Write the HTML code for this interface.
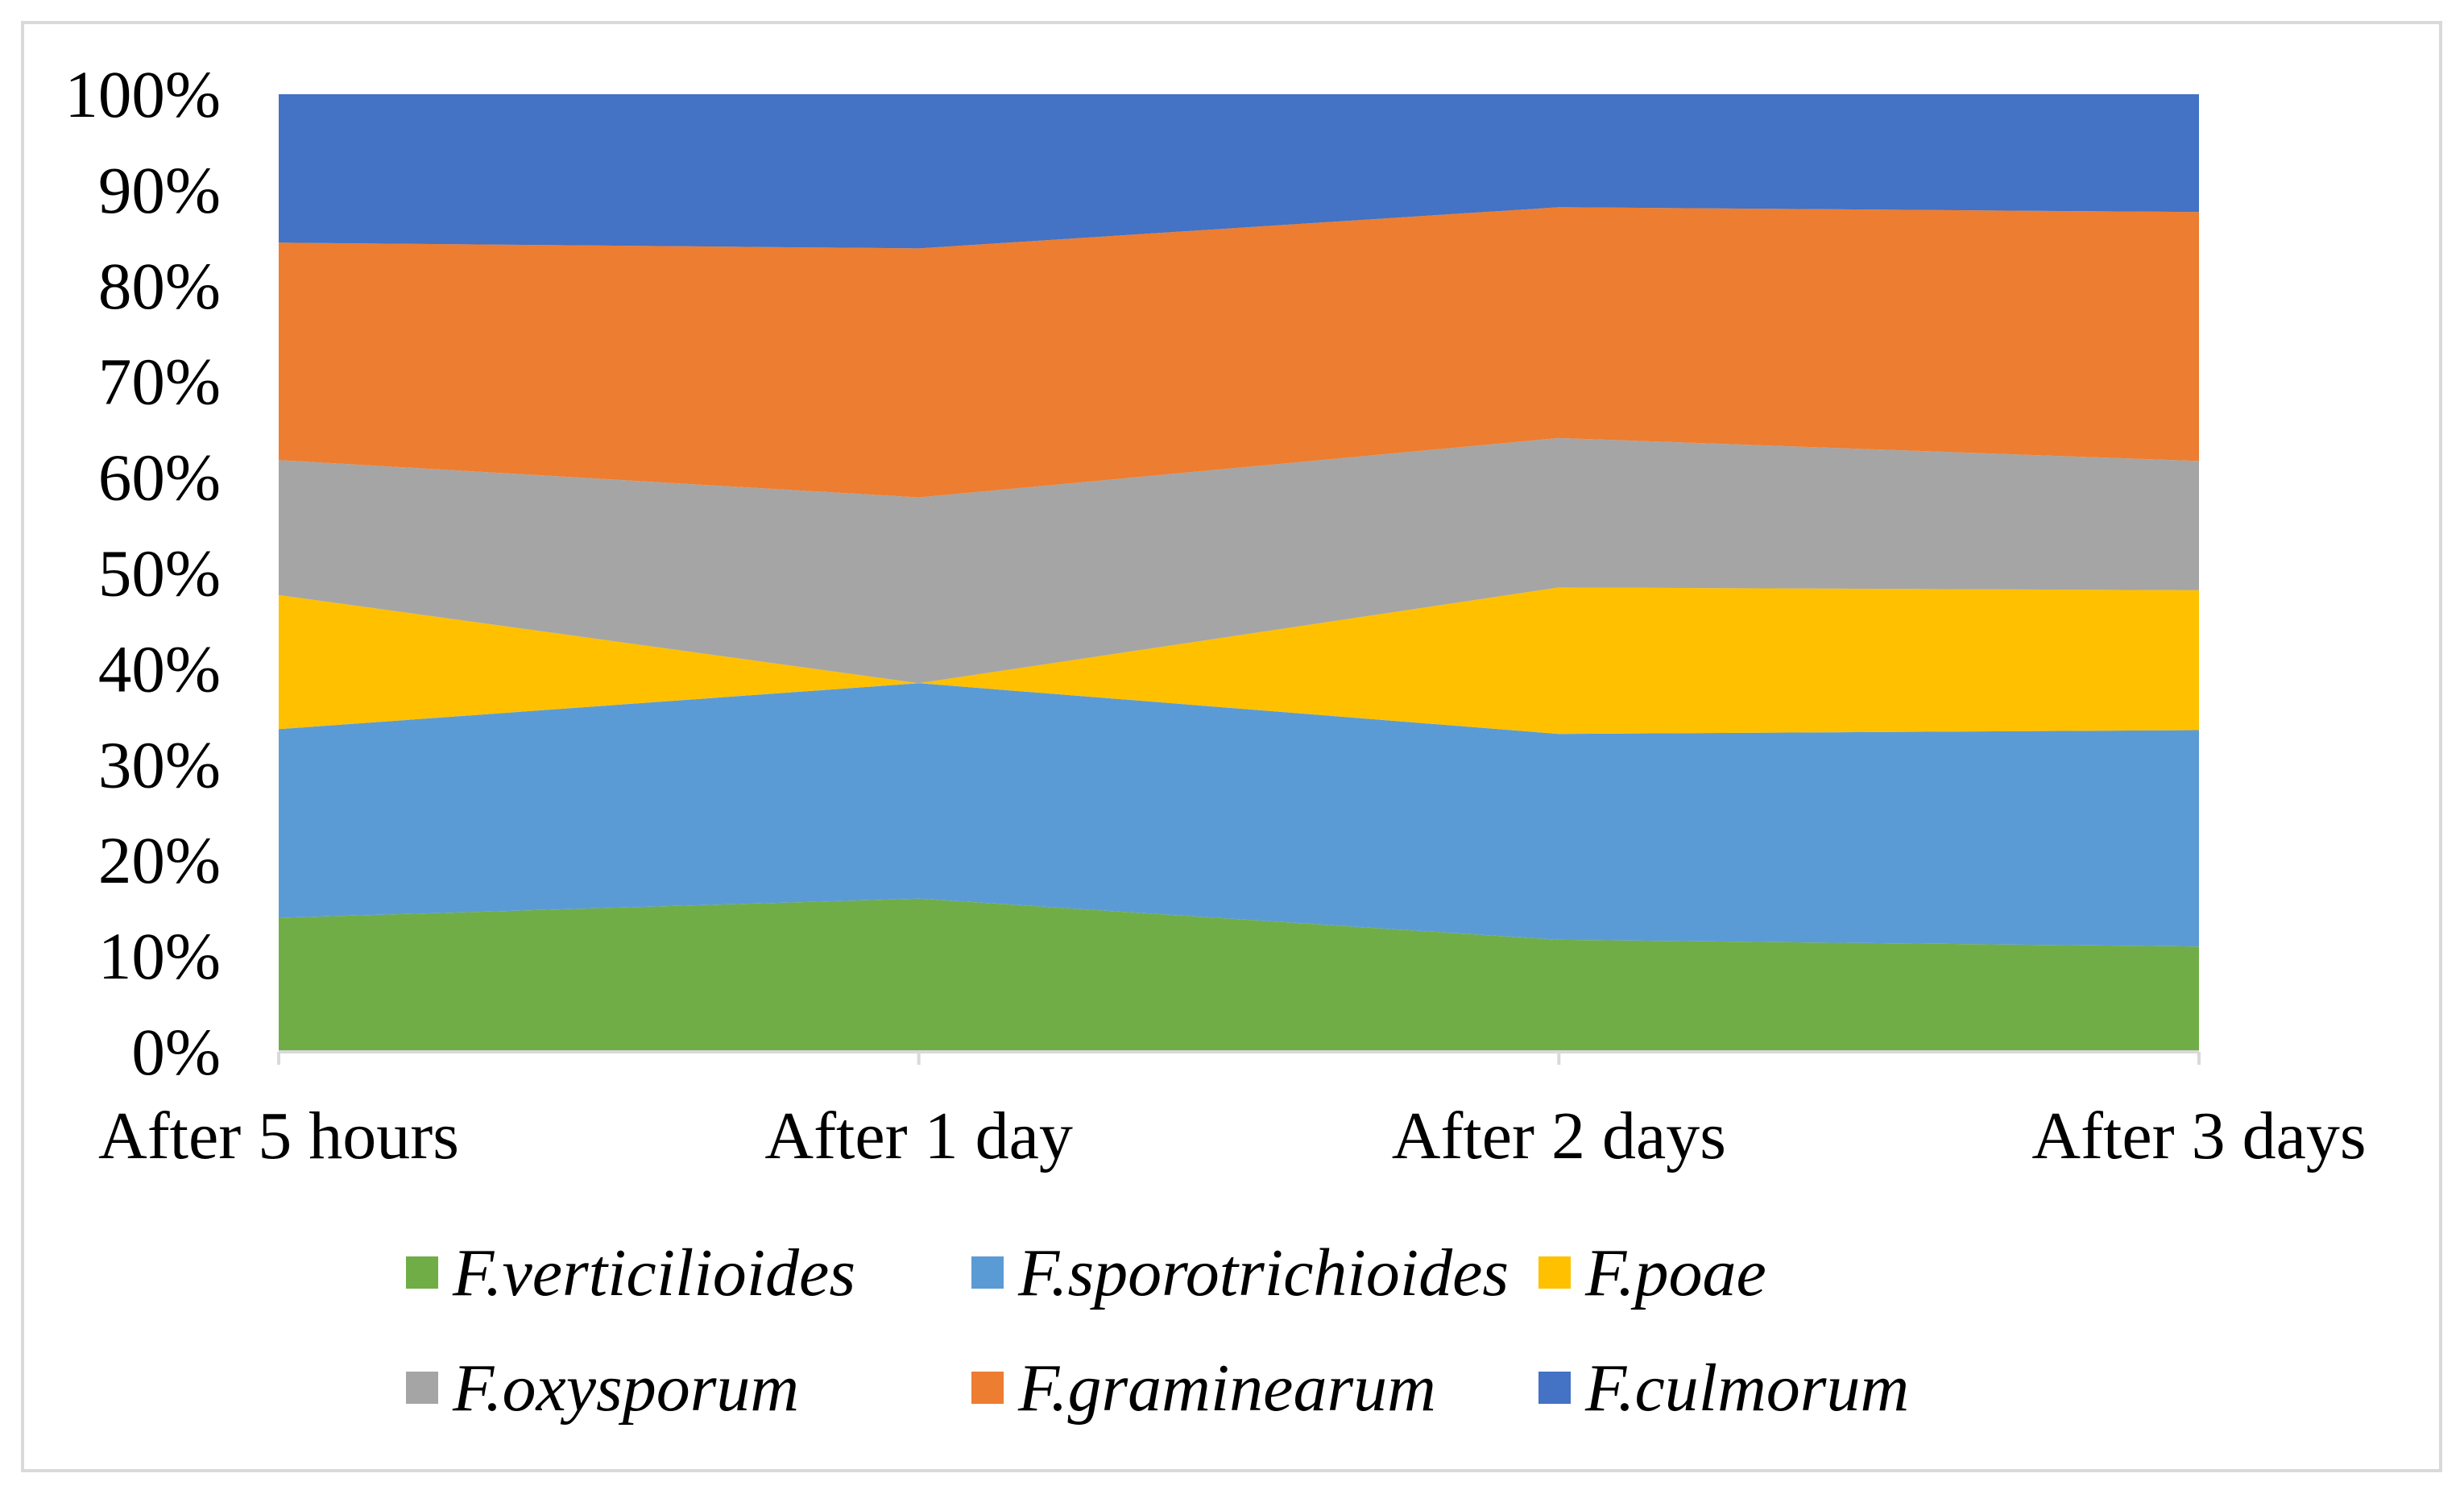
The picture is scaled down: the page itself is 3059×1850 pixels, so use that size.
<!DOCTYPE html>
<html><head><meta charset="utf-8"><style>
html,body{margin:0;padding:0;background:#fff;}
svg{display:block;font-family:"Liberation Serif",serif;}
</style></head><body>
<svg id="chart" width="3059" height="1850" viewBox="0 0 3059 1850" xmlns="http://www.w3.org/2000/svg">
<rect x="28" y="28" width="3002" height="1798" fill="#fff" stroke="#d9d9d9" stroke-width="4"/>
<g id="areas"></g>
<g id="axes"></g>
<g id="legend"></g>
</svg>
<script>
const categories = ["After 5 hours","After 1 day","After 2 days","After 3 days"];
const seriesNames = ["F.verticilioides","F.sporotrichioides","F.poae","F.oxysporum","F.graminearum","F.culmorum"];
const verticilioides = [14, 16, 11.7, 11];
const sporotrichioides = [19.7, 22.5, 21.5, 22.6];
const poae = [14, 0, 15.3, 14.6];
const oxysporum = [14.1, 19.4, 15.6, 13.5];
const graminearum = [22.7, 26, 24.1, 26];
const culmorum = [15.5, 16.1, 11.8, 12.3];
const yTicks = ["0%","10%","20%","30%","40%","50%","60%","70%","80%","90%","100%"];
const colors = ["#70ad47","#5b9bd5","#ffc000","#a5a5a5","#ed7d31","#4472c4"];

const NS="http://www.w3.org/2000/svg";
const L=346,R=2730,T=117,B=1306;
const xAt=i=>L+(R-L)*i/(categories.length-1);
const yAt=p=>B-(B-T)*p/100;
const series=[verticilioides,sporotrichioides,poae,oxysporum,graminearum,culmorum];
const areas=document.getElementById('areas');
let base=categories.map(()=>0);
series.forEach((s,k)=>{
  const tot=categories.map((c,i)=>series.reduce((a,ss)=>a+ss[i],0));
  const top=base.map((b,i)=>b+s[i]/tot[i]*100);
  let d="M"+categories.map((c,i)=>xAt(i)+","+yAt(top[i])).join(" L");
  for(let i=categories.length-1;i>=0;i--) d+=" L"+xAt(i)+","+yAt(base[i]);
  d+=" Z";
  const p=document.createElementNS(NS,'path');
  p.setAttribute('d',d);p.setAttribute('fill',colors[k]);
  
  
  areas.appendChild(p);
  base=top;
});
const axes=document.getElementById('axes');
yTicks.forEach((t,i)=>{
  const tx=document.createElementNS(NS,'text');
  tx.setAttribute('x',274);tx.setAttribute('y',yAt(i*10)+28);
  tx.setAttribute('text-anchor','end');tx.setAttribute('font-size','83');
  tx.textContent=t;
  
  
  axes.appendChild(tx);
});
const ax=document.createElementNS(NS,'line');
ax.setAttribute('x1',L);ax.setAttribute('x2',R);ax.setAttribute('y1',B);ax.setAttribute('y2',B);
ax.setAttribute('stroke','#d9d9d9');ax.setAttribute('stroke-width','4');


axes.appendChild(ax);
categories.forEach((c,i)=>{
  const tk=document.createElementNS(NS,'line');
  tk.setAttribute('x1',xAt(i));tk.setAttribute('x2',xAt(i));tk.setAttribute('y1',B);tk.setAttribute('y2',B+16);
  tk.setAttribute('stroke','#d9d9d9');tk.setAttribute('stroke-width','4');
  
  
  axes.appendChild(tk);
  const tx=document.createElementNS(NS,'text');
  tx.setAttribute('x',xAt(i));tx.setAttribute('y',1438);
  tx.setAttribute('text-anchor','middle');tx.setAttribute('font-size','84');
  tx.textContent=c;
  
  
  axes.appendChild(tx);
});
const legend=document.getElementById('legend');
const colX=[504,1206,1910], rowY=[1580,1723];
seriesNames.forEach((n,k)=>{
  const x=colX[k%3], y=rowY[Math.floor(k/3)];
  const g=document.createElementNS(NS,'g');
  
  
  const r=document.createElementNS(NS,'rect');
  r.setAttribute('x',x);r.setAttribute('y',y-20);r.setAttribute('width',40);r.setAttribute('height',40);
  r.setAttribute('fill',colors[k]);
  
  
  g.appendChild(r);
  const t=document.createElementNS(NS,'text');
  t.setAttribute('x',x+58);t.setAttribute('y',y+28);
  t.setAttribute('font-size','84');t.setAttribute('font-style','italic');
  t.textContent=n;
  
  
  g.appendChild(t);
  legend.appendChild(g);
});
</script>
</body></html>
